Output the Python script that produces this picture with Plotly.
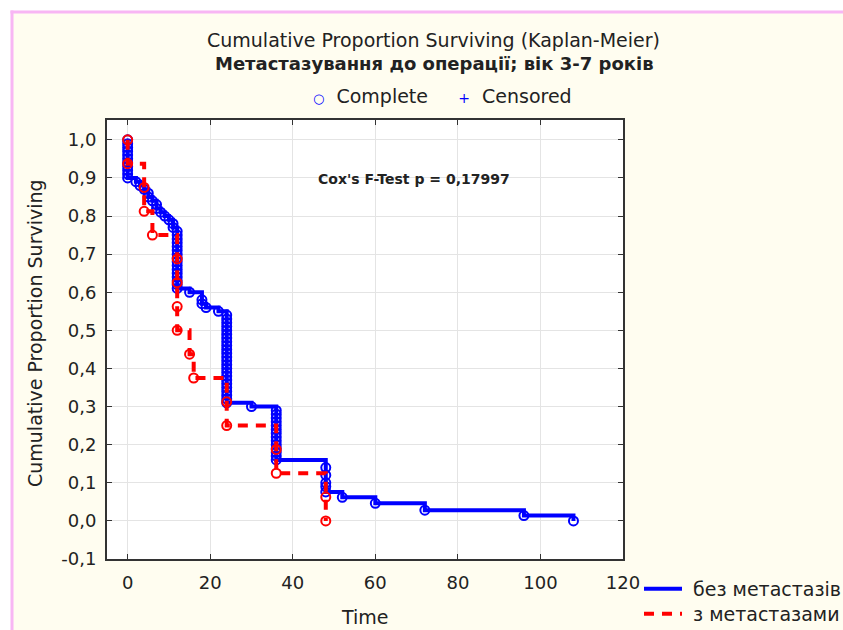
import plotly.graph_objects as go

# ---------------- data ----------------
blue_time = [0, 0, 0, 0, 0, 0, 0, 0, 0, 0, 0,
             2, 3, 4, 5, 5, 6, 7, 7, 8, 9, 10, 11, 11,
             12, 12, 12, 12, 12, 12, 12, 12, 12, 12, 12, 12, 12, 12, 12, 12,
             15, 18, 18, 19, 22,
             24, 24, 24, 24, 24, 24, 24, 24, 24, 24, 24, 24,
             24, 24, 24, 24, 24, 24, 24, 24, 24, 24, 24, 24,
             30,
             36, 36, 36, 36, 36, 36, 36, 36, 36, 36, 36, 36, 36, 36,
             48, 48, 48, 48, 48,
             52, 60, 72, 96, 108]
blue_surv = [1.00, 0.99, 0.98, 0.97, 0.96, 0.95, 0.94, 0.93, 0.92, 0.91, 0.90,
             0.89, 0.88, 0.87, 0.86, 0.85, 0.84, 0.83, 0.82, 0.81, 0.80, 0.79, 0.78, 0.77,
             0.76, 0.75, 0.74, 0.73, 0.72, 0.71, 0.70, 0.69, 0.68, 0.67, 0.66, 0.65, 0.64, 0.63, 0.62, 0.61,
             0.60, 0.58, 0.57, 0.56, 0.55,
             0.54, 0.53, 0.52, 0.51, 0.50, 0.49, 0.48, 0.47, 0.46, 0.45, 0.44, 0.43,
             0.42, 0.41, 0.40, 0.39, 0.38, 0.37, 0.36, 0.35, 0.34, 0.33, 0.32, 0.31,
             0.30,
             0.29, 0.28, 0.27, 0.26, 0.25, 0.24, 0.23, 0.22, 0.21, 0.20, 0.19, 0.18, 0.17, 0.16,
             0.14, 0.12, 0.10, 0.09, 0.076,
             0.062, 0.046, 0.028, 0.014, 0.0]

red_time = [0, 0, 4, 4, 6, 12, 12, 12, 12, 15, 16, 24, 24, 36, 36, 48, 48]
red_surv = [1.0, 0.9375, 0.875, 0.8125, 0.75, 0.6875, 0.625, 0.5625, 0.5,
            0.4375, 0.375, 0.3125, 0.25, 0.1875, 0.125, 0.0625, 0.0]

series_names = ["без метастазів", "з метастазами"]
x_ticks = [0, 20, 40, 60, 80, 100, 120]
y_ticks = [-0.1, 0.0, 0.1, 0.2, 0.3, 0.4, 0.5, 0.6, 0.7, 0.8, 0.9, 1.0]
y_tick_labels = ["-0,1", "0,0", "0,1", "0,2", "0,3", "0,4", "0,5",
                 "0,6", "0,7", "0,8", "0,9", "1,0"]

title_1 = "Cumulative Proportion Surviving (Kaplan-Meier)"
title_2 = "Метастазування до операції; вік 3-7 років"
cox_text = "Cox's F-Test p = 0,17997"

# ---------------- layout geometry ----------------
W, H = 843, 630
L, R, T, B = 107, 623, 120, 559   # plot area in pixels


def px(x):
    return (x - L) / (R - L)


def py(y):
    return (B - y) / (B - T)


BLUE = "#0000FF"
RED = "#FF0000"
FONT = "DejaVu Sans, Verdana, sans-serif"
TXT = "#222222"
NB = "\u00a0"

fig = go.Figure()

fig.add_trace(go.Scatter(
    x=blue_time, y=blue_surv, mode="lines+markers",
    line=dict(color=BLUE, width=4, shape="hv"),
    marker=dict(symbol="circle-open", size=9, color=BLUE, line=dict(width=2, color=BLUE)),
    showlegend=False, hoverinfo="skip"))

fig.add_trace(go.Scatter(
    x=red_time, y=red_surv, mode="lines+markers",
    line=dict(color=RED, width=4, shape="hv", dash="10px,8px"),
    marker=dict(symbol="circle-open", size=9, color=RED, line=dict(width=2, color=RED)),
    showlegend=False, hoverinfo="skip"))

# legend-only entries (lines only), one legend box each
fig.add_trace(go.Scatter(x=[None], y=[None], mode="lines", name=NB + series_names[0],
                         line=dict(color=BLUE, width=4), legend="legend"))
fig.add_trace(go.Scatter(x=[None], y=[None], mode="lines", name=NB + series_names[1],
                         line=dict(color=RED, width=4, dash="10px,8px"), legend="legend2"))

axis_common = dict(
    showline=True, linecolor="#333333", linewidth=2, mirror="ticks",
    ticks="inside", ticklen=5, tickwidth=1, tickcolor="#333333",
    showgrid=True, gridcolor="#E4E4E4", gridwidth=1, zeroline=False,
    tickfont=dict(family=FONT, size=18, color=TXT),
)

legend_common = dict(xref="container", yref="container", xanchor="left", yanchor="top",
                     bgcolor="rgba(0,0,0,0)", borderwidth=0, itemwidth=38,
                     font=dict(family=FONT, size=19, color=TXT))

fig.update_layout(
    width=W, height=H,
    margin=dict(l=L, r=W - R, t=T, b=H - B, pad=0, autoexpand=False),
    paper_bgcolor="#FFFDF0", plot_bgcolor="#FFFFFF",
    font=dict(family=FONT, color=TXT),
    xaxis=dict(range=[-5, 120], tickvals=x_ticks, ticklabelstandoff=6, **axis_common),
    yaxis=dict(range=[-0.1, 1.052], tickvals=y_ticks, ticktext=y_tick_labels,
               ticklabelstandoff=5, **axis_common),
    showlegend=True,
    legend=dict(x=639 / W, y=1 - 570 / H, **legend_common),
    legend2=dict(x=639 / W, y=1 - 595 / H, **legend_common),
)

shapes = [
    # white margins outside the pink frame
    dict(type="rect", xref="paper", yref="paper", x0=px(-5), x1=px(11), y0=py(H + 40), y1=py(-5),
         fillcolor="white", line=dict(width=0), layer="below"),
    dict(type="rect", xref="paper", yref="paper", x0=px(-5), x1=px(W + 40), y0=py(11), y1=py(-5),
         fillcolor="white", line=dict(width=0), layer="below"),
    # pink frame
    dict(type="line", xref="paper", yref="paper", x0=px(12), x1=px(12), y0=py(H + 40), y1=py(10.5),
         line=dict(color="#F8B6F4", width=3), layer="below"),
    dict(type="line", xref="paper", yref="paper", x0=px(10.5), x1=px(W + 40), y0=py(12), y1=py(12),
         line=dict(color="#F8B6F4", width=3), layer="below"),
]
fig.update_layout(shapes=shapes)

legend_top = ("<span style='color:#0000FF;font-size:13px'>○</span>" + NB * 2 + "Complete" + NB * 5 +
              "<span style='color:#0000FF;font-size:14px'>+</span>" + NB * 2 + "Censored")

ann = [
    dict(text=title_1, x=px(433), y=py(40), font=dict(size=19)),
    dict(text="<b>" + title_2 + "</b>", x=px(434), y=py(64), font=dict(size=18)),
    dict(text=legend_top, x=px(442), y=py(96), font=dict(size=19)),
    dict(text="<b>" + cox_text + "</b>", x=px(414), y=py(179), font=dict(size=14)),
    dict(text="Cumulative Proportion Surviving", x=px(35), y=py(333), textangle=-90,
         font=dict(size=19)),
    dict(text="Time", x=px(365), y=py(617), font=dict(size=19)),
]
for a in ann:
    a.update(xref="paper", yref="paper", showarrow=False, xanchor="center", yanchor="middle")
    a["font"].update(family=FONT, color=TXT)
fig.update_layout(annotations=ann)

fig.write_html("out.html")
